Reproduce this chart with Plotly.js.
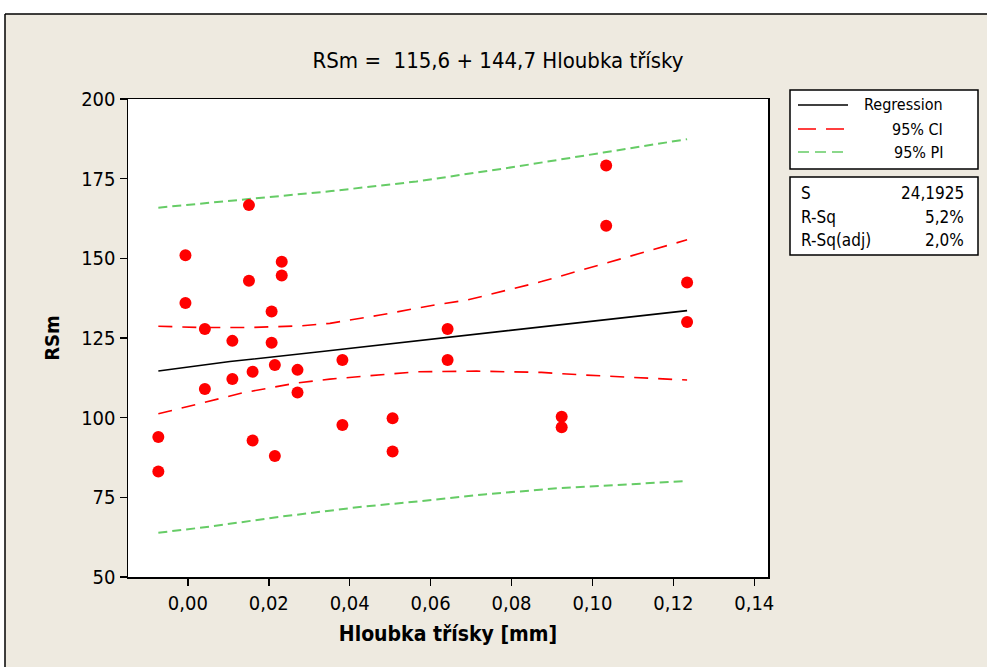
<!DOCTYPE html>
<html><head><meta charset="utf-8">
<script src="https://cdn.plot.ly/plotly-3.0.1.min.js"></script>
<style>html,body{margin:0;padding:0;background:#fff}</style>
</head><body><div id="chart" style="width:987px;height:667px"></div>
<script>
// Observations: Hloubka třísky [mm] vs RSm
const depth = [-0.0073,-0.0073,-0.0006,-0.0006,0.0042,0.0042,0.0110,0.0110,0.0151,0.0151,0.0160,0.0160,
               0.0207,0.0207,0.0215,0.0215,0.0232,0.0232,0.0271,0.0271,0.0382,0.0382,0.0506,0.0506,
               0.0642,0.0642,0.0924,0.0924,0.1034,0.1034,0.1234,0.1234];
const rsm = [93.9,83.1,151.0,136.0,127.8,109.0,124.1,112.1,166.7,143.0,114.4,92.8,
             133.3,123.5,116.5,88.0,148.9,144.6,115.0,107.9,118.1,97.7,99.8,89.4,
             127.8,118.1,100.3,97.0,179.1,160.2,142.4,130.0];
// Regression line
const fitX = [-0.0073,0.0104,0.0326,0.0714,0.0870,0.1234];
const fitY = [114.65,117.6,120.7,126.2,128.6,133.6];
// 95% CI
const ciUpX = [-0.0073,0.0030,0.0153,0.0277,0.0351,0.0475,0.0611,0.0690,0.0874,0.1076,0.1234];
const ciUpY = [128.7,128.3,128.3,128.8,129.6,132.2,135.4,136.9,142.7,150.0,155.8];
const ciLoX = [-0.0073,0.0034,0.0136,0.0269,0.0351,0.0565,0.0714,0.0874,0.0977,0.1234];
const ciLoY = [101.2,104.6,107.8,110.9,112.1,114.4,114.6,114.2,113.4,111.8];
// 95% PI
const piUpX = [-0.0073,0.0129,0.0355,0.0565,0.0813,0.1027,0.1234];
const piUpY = [165.9,168.3,171.1,174.1,178.8,183.2,187.4];
const piLoX = [-0.0073,0.0054,0.0227,0.0433,0.0569,0.0738,0.0920,0.1068,0.1234];
const piLoY = [63.9,65.8,68.9,72.1,73.7,76.0,77.9,78.9,80.1];
// Legend / stats text
const legendNames = ["Regression","95% CI","95% PI"];
const statNames = ["S","R-Sq","R-Sq(adj)"];
const statValues = ["24,1925","5,2%","2,0%"];
const titleText = "RSm =  115,6 + 144,7 Hloubka třísky";

const FONT = "DejaVu Sans Condensed, Liberation Sans Narrow, DejaVu Sans, sans-serif";
const RED = "#FF0000", GREEN = "#66CC66";

// plot-area pixel frame
const L = 128, R = 768, T = 99, B = 577, W = 987, H = 667;
const px = p => (p - L) / (R - L);
const py = p => (B - p) / (B - T);

const traces = [
  {x: piUpX, y: piUpY, mode: "lines", line: {color: GREEN, width: 2, dash: "9px,5px"}, hoverinfo: "skip"},
  {x: piLoX, y: piLoY, mode: "lines", line: {color: GREEN, width: 2, dash: "9px,5px"}, hoverinfo: "skip"},
  {x: ciUpX, y: ciUpY, mode: "lines", line: {color: RED, width: 1.6, dash: "14px,10px"}, hoverinfo: "skip"},
  {x: ciLoX, y: ciLoY, mode: "lines", line: {color: RED, width: 1.6, dash: "14px,10px"}, hoverinfo: "skip"},
  {x: fitX, y: fitY, mode: "lines", line: {color: "#000", width: 1.6}},
  {x: depth, y: rsm, mode: "markers", marker: {color: RED, size: 12}}
];

const shapes = [
  // white strips outside the beige frame + frame border
  {type: "rect", xref: "paper", yref: "paper", x0: px(-20), x1: px(1010), y0: py(14), y1: py(-20), fillcolor: "#fff", line: {width: 0}},
  {type: "rect", xref: "paper", yref: "paper", x0: px(-20), x1: px(5), y0: py(690), y1: py(-20), fillcolor: "#fff", line: {width: 0}},
  {type: "line", xref: "paper", yref: "paper", x0: px(5), x1: px(1010), y0: py(14), y1: py(14), line: {color: "#000", width: 1.5}},
  {type: "line", xref: "paper", yref: "paper", x0: px(5), x1: px(5), y0: py(14), y1: py(690), line: {color: "#000", width: 1.5}},
  // legend box
  {type: "rect", xref: "paper", yref: "paper", x0: px(790), x1: px(978), y0: py(90), y1: py(169), fillcolor: "#fff", line: {color: "#000", width: 1.5}},
  {type: "rect", xref: "paper", yref: "paper", x0: px(790), x1: px(978), y0: py(177), y1: py(255), fillcolor: "#fff", line: {color: "#000", width: 1.5}},
  {type: "line", xref: "paper", yref: "paper", x0: px(798), x1: px(848), y0: py(105), y1: py(105), line: {color: "#000", width: 1.5}},
  {type: "line", xref: "paper", yref: "paper", x0: px(798), x1: px(848), y0: py(129), y1: py(129), line: {color: RED, width: 1.6, dash: "18px,10px"}},
  {type: "line", xref: "paper", yref: "paper", x0: px(798), x1: px(848), y0: py(152), y1: py(152), line: {color: GREEN, width: 1.6, dash: "11px,6px"}}
];

const annotations = [];
const legY = [105, 129, 152];
legendNames.forEach((n, i) => annotations.push({xref: "paper", yref: "paper", x: px(945), y: py(legY[i]), text: n, showarrow: false, xanchor: "right", yanchor: "middle", font: {family: FONT, size: 16, color: "#000"}}));
const stY = [193, 217, 240];
statNames.forEach((n, i) => {
  annotations.push({xref: "paper", yref: "paper", x: px(799), y: py(stY[i]), text: n, showarrow: false, xanchor: "left", yanchor: "middle", font: {family: FONT, size: 17, color: "#000"}});
  annotations.push({xref: "paper", yref: "paper", x: px(966), y: py(stY[i]), text: statValues[i], showarrow: false, xanchor: "right", yanchor: "middle", font: {family: FONT, size: 17, color: "#000"}});
});

const layout = {
  width: W, height: H,
  margin: {l: L, r: W - R, t: T, b: H - B, pad: 0},
  paper_bgcolor: "rgb(238,234,224)",
  plot_bgcolor: "#fff",
  showlegend: false,
  separators: ", ",
  title: {text: titleText, x: 498 / W, xref: "container", xanchor: "center", y: 1 - 60 / H, yref: "container", yanchor: "middle",
          font: {family: FONT, size: 22, color: "#000"}},
  xaxis: {range: [-0.0148, 0.1434], tick0: 0, dtick: 0.02, tickformat: ".2f", ticks: "outside", ticklen: 7, tickwidth: 1.5, tickcolor: "#000",
          showline: true, mirror: true, linecolor: "#000", linewidth: 1.5, showgrid: false, zeroline: false,
          tickfont: {family: FONT, size: 20, color: "#000"},
          title: {text: "<b>Hloubka třísky [mm]</b>", standoff: 13, font: {family: FONT, size: 21, color: "#000"}}},
  yaxis: {range: [50, 200], tick0: 50, dtick: 25, ticks: "outside", ticklen: 7, tickwidth: 1.5, tickcolor: "#000",
          showline: true, mirror: true, linecolor: "#000", linewidth: 1.5, showgrid: false, zeroline: false,
          tickfont: {family: FONT, size: 20, color: "#000"},
          title: {text: "<b>RSm</b>", standoff: 16, font: {family: FONT, size: 20, color: "#000"}}},
  shapes: shapes,
  annotations: annotations
};

Plotly.newPlot("chart", traces, layout, {staticPlot: true, displayModeBar: false});
</script>
</body></html>
